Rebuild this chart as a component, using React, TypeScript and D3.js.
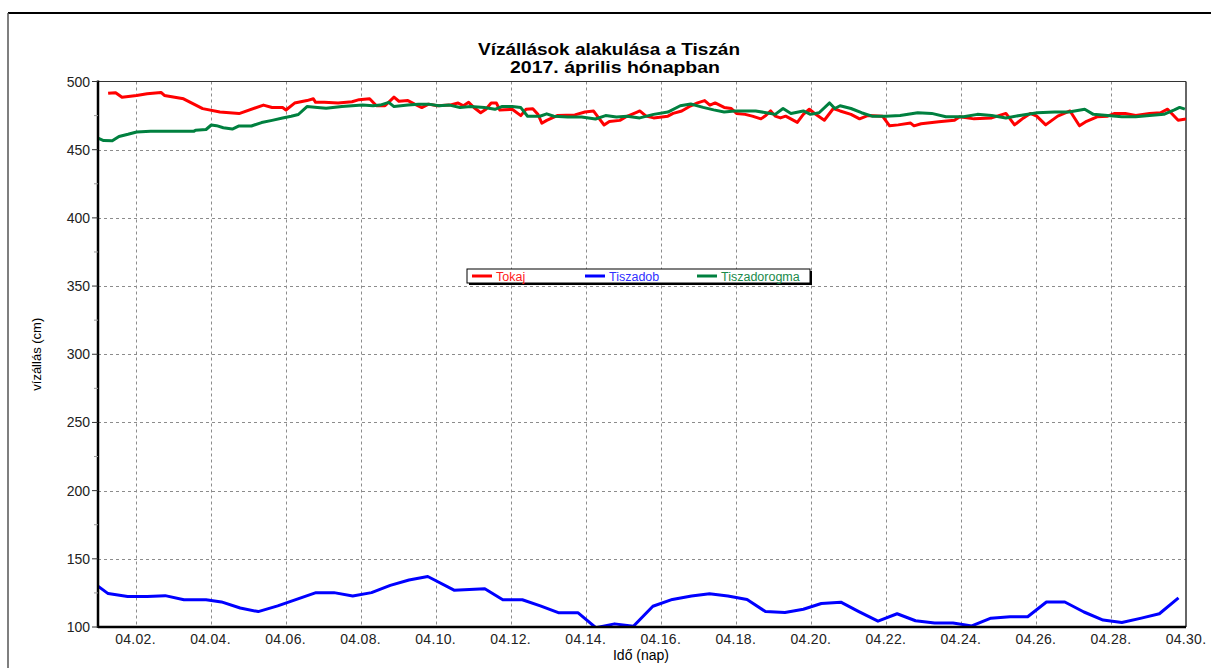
import React, { useRef, useEffect } from 'react';
import * as d3 from 'd3';

// Tokaj (red): day of April -> water level (cm)
const tokajDays = [1.27, 1.47, 1.64, 2.03, 2.31, 2.68, 2.77, 3.28, 3.79, 4.25, 4.76, 5.41, 5.64, 5.92, 6.01, 6.24, 6.57, 6.74, 6.8, 7.03, 7.4, 7.77, 7.96, 8.24, 8.42, 8.65, 8.89, 9.02, 9.26, 9.44, 9.63, 9.81, 10.04, 10.37, 10.6, 10.74, 10.88, 11.02, 11.2, 11.34, 11.48, 11.62, 11.71, 12.04, 12.27, 12.41, 12.59, 12.73, 12.83, 12.96, 13.24, 13.71, 13.98, 14.21, 14.35, 14.49, 14.63, 14.91, 15.1, 15.37, 15.44, 15.61, 15.81, 16.19, 16.33, 16.56, 16.8, 16.98, 17.17, 17.31, 17.45, 17.69, 17.88, 18.02, 18.25, 18.44, 18.67, 18.8, 18.93, 19.05, 19.19, 19.33, 19.64, 19.8, 19.96, 20.1, 20.36, 20.6, 20.78, 21.07, 21.3, 21.53, 21.91, 22.1, 22.33, 22.66, 22.75, 22.94, 23.41, 23.83, 23.97, 24.35, 24.82, 25.2, 25.43, 25.67, 25.85, 26.02, 26.26, 26.58, 26.91, 27.16, 27.35, 27.63, 27.91, 28.1, 28.38, 28.66, 29.03, 29.32, 29.51, 29.79, 30.0];
const tokajLevels = [491.3, 491.8, 488.5, 489.8, 491, 492, 489.8, 487.3, 480.1, 477.6, 476.5, 482.7, 480.9, 480.9, 479.1, 484.2, 486, 487.3, 484.7, 484.7, 484.2, 485.2, 486.7, 487.3, 482.2, 482.2, 488.5, 485.5, 486, 483.4, 480.9, 483.4, 482.2, 482.7, 484.2, 482.2, 484.7, 480.9, 477.1, 479.6, 484.2, 484.2, 479.1, 479.6, 475, 479.6, 480.1, 475.8, 469.4, 471.5, 475, 475.5, 477.6, 478.3, 473.2, 468.1, 470.7, 471.5, 474.5, 477.6, 478.4, 474.6, 473.3, 474.6, 476.6, 478.4, 482.2, 484.3, 486, 482.7, 484.3, 481, 480.2, 476.6, 475.9, 474.6, 472.6, 475.1, 478.4, 474.6, 473.3, 474.6, 470, 475.9, 479.7, 476.6, 471.6, 480.2, 478.4, 475.9, 472.6, 475.1, 474.6, 467.5, 468.2, 469.5, 467.5, 469, 470.5, 471.6, 474.1, 472.6, 473.3, 476.6, 468.2, 473.3, 476.6, 474.6, 468.2, 474.6, 478.4, 467.5, 470.8, 474.1, 474.6, 476.6, 476.6, 475.1, 476.6, 477.1, 479.7, 471.6, 472.6];

// Tiszadob (blue)
const tiszadobDays = [1.0, 1.27, 1.79, 2.31, 2.79, 3.29, 3.88, 4.29, 4.79, 5.27, 5.79, 6.31, 6.81, 7.29, 7.79, 8.29, 8.79, 9.29, 9.79, 10.49, 11.31, 11.79, 12.31, 12.79, 13.27, 13.79, 14.27, 14.77, 15.27, 15.79, 16.31, 16.82, 17.3, 17.79, 18.3, 18.79, 19.31, 19.8, 20.28, 20.8, 21.28, 21.79, 22.3, 22.79, 23.3, 23.79, 24.29, 24.8, 25.31, 25.78, 26.28, 26.77, 27.28, 27.79, 28.29, 28.81, 29.29, 29.8];
const tiszadobLevels = [130, 124.5, 122.3, 122.3, 123, 120, 120, 118.4, 113.9, 111.3, 115.5, 120.5, 125.2, 125.2, 122.8, 125.2, 130.5, 134.5, 137, 127, 128, 120, 120, 115.5, 110.5, 110.5, 99.5, 102.3, 100.5, 115.2, 120.2, 122.8, 124.3, 122.8, 120.2, 111.3, 110.7, 113, 117.2, 118.2, 111.3, 104.3, 109.7, 104.6, 103, 103, 100.8, 106.5, 107.5, 107.5, 118.3, 118.3, 111, 105.1, 103.3, 106.5, 109.7, 121.3];

// Tiszadorogma (green)
const dorogmaDays = [1.0, 1.15, 1.38, 1.56, 1.8, 2.03, 2.4, 2.77, 3.23, 3.56, 3.6, 3.88, 4.02, 4.16, 4.34, 4.58, 4.76, 5.09, 5.36, 5.64, 5.92, 6.15, 6.34, 6.57, 6.85, 7.08, 7.5, 7.77, 8.05, 8.33, 8.52, 8.75, 8.89, 9.26, 9.54, 9.81, 10.09, 10.37, 10.65, 10.93, 11.3, 11.58, 11.76, 12.04, 12.27, 12.45, 12.78, 12.96, 13.15, 13.52, 13.89, 14.26, 14.53, 14.82, 15.1, 15.44, 15.81, 16.19, 16.52, 16.8, 17.13, 17.41, 17.69, 17.97, 18.53, 18.81, 19.05, 19.26, 19.47, 19.8, 19.99, 20.22, 20.5, 20.64, 20.78, 21.07, 21.35, 21.63, 22.0, 22.38, 22.85, 23.22, 23.6, 24.07, 24.44, 24.82, 25.2, 25.57, 26.04, 26.5, 26.88, 27.3, 27.53, 27.91, 28.29, 28.66, 29.03, 29.41, 29.69, 29.83, 29.97];
const dorogmaLevels = [458.5, 456.7, 456.5, 459.7, 461.3, 463, 463.6, 463.6, 463.6, 463.6, 464.3, 464.8, 468.1, 467.6, 466.1, 465.1, 467.4, 467.4, 469.9, 471.5, 473.2, 474.5, 475.8, 481.6, 480.9, 480.4, 481.6, 482.2, 482.7, 482.2, 482.7, 484.7, 481.6, 482.7, 483.4, 483.4, 482.2, 482.7, 480.9, 481.6, 480.9, 479.6, 481.6, 481.6, 480.9, 474.5, 474.5, 476.3, 474.5, 474, 474, 472.5, 475, 474, 474.5, 473.3, 475.9, 477.6, 482.2, 483.5, 481, 479.2, 477.6, 478.4, 478.4, 477.1, 475.9, 480.2, 476.6, 478.4, 475.9, 477.1, 484.3, 480.2, 482.2, 480.2, 477.1, 474.6, 474.6, 475.1, 477.1, 476.6, 474.1, 474.1, 475.9, 475.1, 473.3, 475.1, 477.1, 477.6, 477.6, 479.7, 475.9, 475.1, 474.1, 474.1, 475.1, 475.9, 479.2, 481, 479.7];

const xTickDays = [2, 4, 6, 8, 10, 12, 14, 16, 18, 20, 22, 24, 26, 28, 30];
const xTickLabels = ['04.02.', '04.04.', '04.06.', '04.08.', '04.10.', '04.12.', '04.14.', '04.16.', '04.18.', '04.20.', '04.22.', '04.24.', '04.26.', '04.28.', '04.30.'];
const yTicks = [100, 150, 200, 250, 300, 350, 400, 450, 500];
const yMinorTicks = [125, 175, 225, 275, 325, 375, 425, 475];

const seriesNames = ['Tokaj', 'Tiszadob', 'Tiszadorogma'];
const seriesColors = ['#ff0000', '#0000ff', '#00803f'];
const legendTextColors = ['#ff2020', '#3030ff', '#1a8a4a'];

const W = 1211;
const H = 668;

const App = () => {
  const svgRef = useRef<SVGSVGElement | null>(null);

  useEffect(() => {
    const svg = d3.select(svgRef.current);
    svg.selectAll('*').remove();

    const left = 98;
    const right = 1186;
    const top = 81.5;
    const bottom = 627;
    const font = 'Arial, "Liberation Sans", sans-serif';

    const x = d3.scaleLinear().domain([1, 30]).range([left, right]);
    const y = d3.scaleLinear().domain([100, 500]).range([bottom, top]);

    // outer frame
    svg.append('line').attr('x1', 8).attr('y1', 13).attr('x2', W).attr('y2', 13)
      .attr('stroke', '#000').attr('stroke-width', 2);
    svg.append('line').attr('x1', 8).attr('y1', 13).attr('x2', 8).attr('y2', H)
      .attr('stroke', '#555').attr('stroke-width', 1.5);

    // title (stretched a bit, like the exported original)
    const titleLines = [
      { text: 'Vízállások alakulása a Tiszán', cx: 609, y: 55, len: 262 },
      { text: '2017. április hónapban', cx: 615, y: 72.5, len: 210 },
    ];
    titleLines.forEach(t => {
      svg.append('text')
        .attr('x', t.cx - t.len / 2)
        .attr('y', t.y)
        .attr('textLength', t.len)
        .attr('lengthAdjust', 'spacingAndGlyphs')
        .style('font-family', font)
        .style('font-weight', 'bold')
        .style('font-size', '16px')
        .attr('fill', '#000')
        .text(t.text);
    });

    // grid
    const grid = svg.append('g')
      .attr('stroke', '#8c8c8c')
      .attr('stroke-width', 1)
      .attr('stroke-dasharray', '3,3');
    yTicks.filter(v => v > 100 && v < 500).forEach(v => {
      grid.append('line').attr('x1', left).attr('x2', right)
        .attr('y1', Math.round(y(v)) + 0.5).attr('y2', Math.round(y(v)) + 0.5);
    });
    xTickDays.filter(d => d < 30).forEach(d => {
      grid.append('line').attr('y1', top).attr('y2', bottom)
        .attr('x1', Math.round(x(d)) + 0.5).attr('x2', Math.round(x(d)) + 0.5);
    });

    // plot border: thin top / right, heavy axes
    svg.append('line').attr('x1', left).attr('x2', right).attr('y1', top).attr('y2', top)
      .attr('stroke', '#333').attr('stroke-width', 1.2);
    svg.append('line').attr('x1', right).attr('x2', right).attr('y1', top).attr('y2', bottom)
      .attr('stroke', '#333').attr('stroke-width', 1.5);

    // clip for the lines
    svg.append('clipPath').attr('id', 'plotClip')
      .append('rect').attr('x', left).attr('y', top).attr('width', right - left).attr('height', bottom - top);

    const line = d3.line<[number, number]>()
      .x(d => x(d[0]))
      .y(d => y(d[1]));

    const seriesData: [number, number][][] = [
      tokajDays.map((d, i) => [d, tokajLevels[i]]),
      tiszadobDays.map((d, i) => [d, tiszadobLevels[i]]),
      dorogmaDays.map((d, i) => [d, dorogmaLevels[i]]),
    ];

    const lines = svg.append('g').attr('clip-path', 'url(#plotClip)');
    seriesData.forEach((data, i) => {
      lines.append('path')
        .datum(data)
        .attr('d', line)
        .attr('fill', 'none')
        .attr('stroke', seriesColors[i])
        .attr('stroke-width', 3)
        .attr('stroke-linejoin', 'round');
    });

    // axes
    svg.append('line').attr('x1', left).attr('x2', left).attr('y1', top - 1).attr('y2', bottom + 1)
      .attr('stroke', '#000').attr('stroke-width', 2.5);
    svg.append('line').attr('x1', left).attr('x2', right).attr('y1', bottom).attr('y2', bottom)
      .attr('stroke', '#000').attr('stroke-width', 2.5);

    yTicks.forEach(v => {
      svg.append('line').attr('x1', left - 6).attr('x2', left).attr('y1', y(v)).attr('y2', y(v))
        .attr('stroke', '#333').attr('stroke-width', 1);
      svg.append('text')
        .attr('x', left - 8)
        .attr('y', y(v) + 5)
        .attr('text-anchor', 'end')
        .style('font-family', font)
        .style('font-size', '14px')
        .attr('fill', '#222')
        .text(String(v));
    });
    yMinorTicks.forEach(v => {
      svg.append('line').attr('x1', left - 4).attr('x2', left).attr('y1', y(v)).attr('y2', y(v))
        .attr('stroke', '#999').attr('stroke-width', 1);
    });

    xTickDays.forEach((d, i) => {
      svg.append('text')
        .attr('x', x(d))
        .attr('y', bottom + 17)
        .attr('text-anchor', 'middle')
        .style('font-family', font)
        .style('font-size', '14px')
        .style('letter-spacing', '0.3px')
        .attr('fill', '#222')
        .text(xTickLabels[i]);
    });

    // axis titles
    svg.append('text')
      .attr('transform', `translate(41, ${(top + bottom) / 2}) rotate(-90)`)
      .attr('text-anchor', 'middle')
      .style('font-family', font)
      .style('font-size', '13px')
      .attr('fill', '#000')
      .text('vízállás (cm)');
    svg.append('text')
      .attr('x', 641)
      .attr('y', 660)
      .attr('text-anchor', 'middle')
      .style('font-family', font)
      .style('font-size', '14px')
      .attr('fill', '#000')
      .text('Idő (nap)');

    // legend
    const legend = svg.append('g').attr('transform', 'translate(467, 269)');
    legend.append('rect').attr('x', 2).attr('y', 2).attr('width', 343).attr('height', 14).attr('fill', '#000');
    legend.append('rect').attr('x', 0).attr('y', 0).attr('width', 343).attr('height', 14)
      .attr('fill', '#fff').attr('stroke', '#000').attr('stroke-width', 1);
    const itemX = [5, 118, 230];
    seriesNames.forEach((name, i) => {
      legend.append('line')
        .attr('x1', itemX[i]).attr('x2', itemX[i] + 20)
        .attr('y1', 7).attr('y2', 7)
        .attr('stroke', seriesColors[i]).attr('stroke-width', 3);
      legend.append('text')
        .attr('x', itemX[i] + 24)
        .attr('y', 11.5)
        .style('font-family', font)
        .style('font-size', '12.5px')
        .attr('fill', legendTextColors[i])
        .text(name);
    });
  }, []);

  return (
    <svg
      ref={svgRef}
      width={W}
      height={H}
      style={{ position: 'absolute', left: 0, top: 0, background: '#fff' }}
    />
  );
};

export default App;
